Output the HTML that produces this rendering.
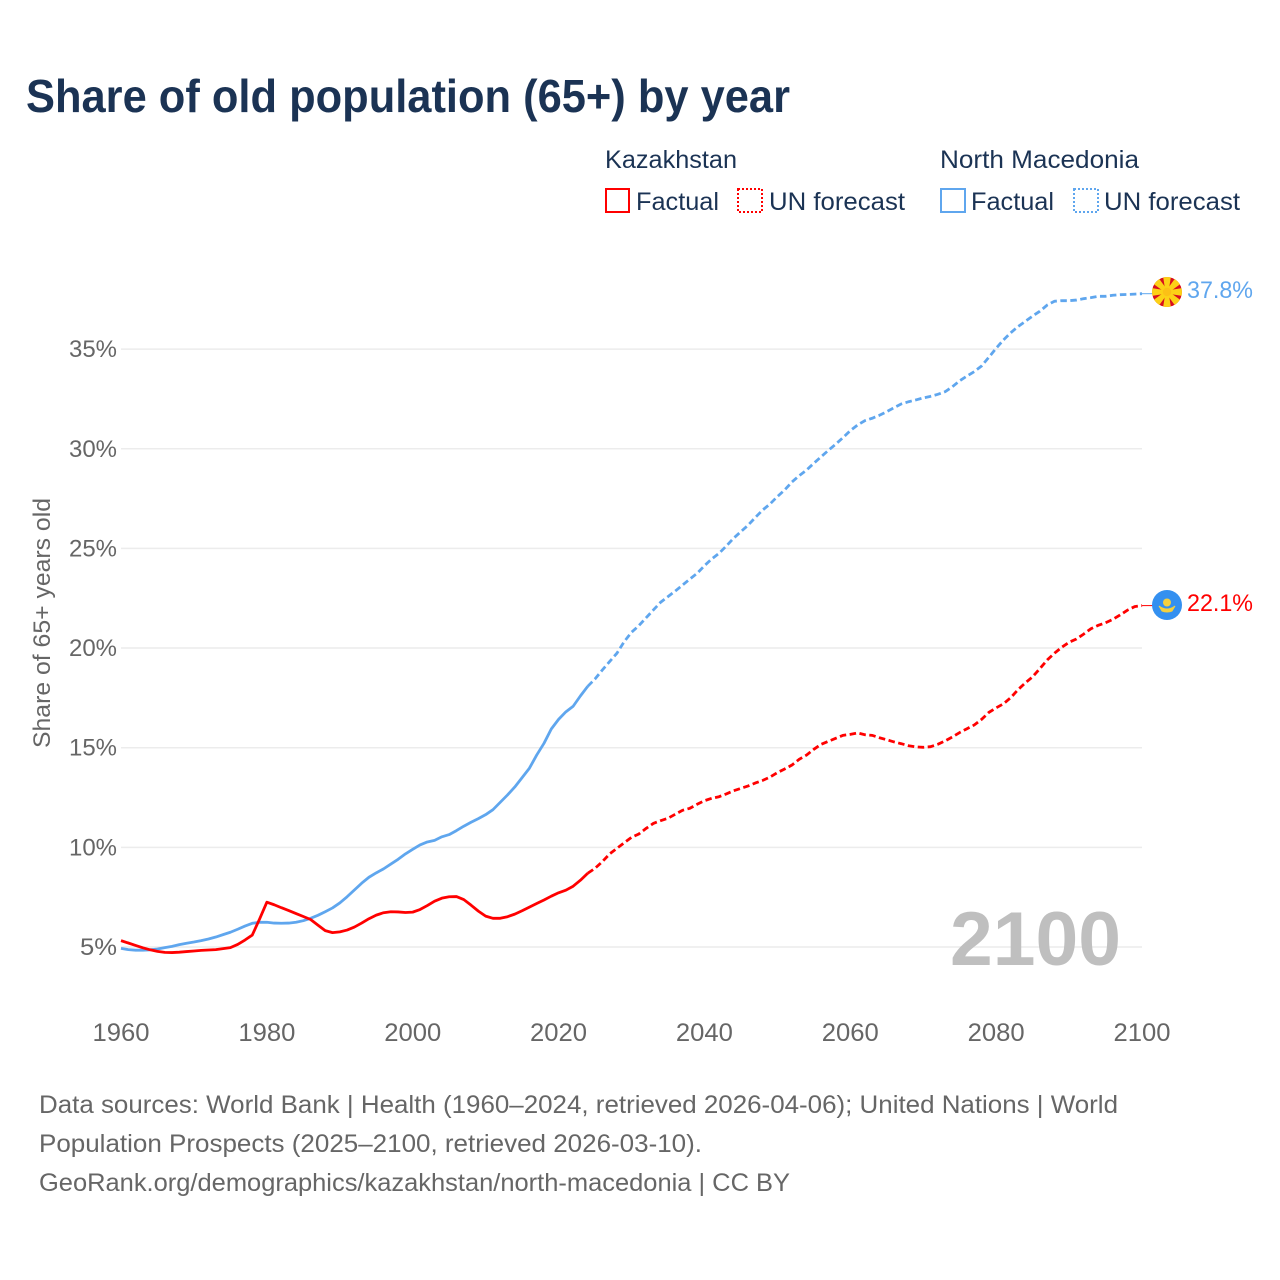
<!DOCTYPE html>
<html lang="en">
<head>
<meta charset="utf-8">
<title>Share of old population (65+) by year</title>
<style>
html,body{margin:0;padding:0;background:#fff;}
svg{display:block;font-family:"Liberation Sans",sans-serif;}
</style>
</head>
<body>
<svg id="chart" xmlns="http://www.w3.org/2000/svg" width="1280" height="1280" viewBox="0 0 1280 1280">
  <rect x="0" y="0" width="1280" height="1280" fill="#ffffff"/>
  <text x="26" y="112" font-size="46" font-weight="700" fill="#1b3354" textLength="764" lengthAdjust="spacingAndGlyphs">Share of old population (65+) by year</text>

  <g fill="#1b3354" font-size="25">
    <text x="605" y="168" textLength="132" lengthAdjust="spacingAndGlyphs">Kazakhstan</text>
    <text x="940" y="168" textLength="199" lengthAdjust="spacingAndGlyphs">North Macedonia</text>
    <rect x="606" y="189" width="23" height="23" fill="none" stroke="#ff0000" stroke-width="2"/>
    <text x="636" y="210" textLength="83" lengthAdjust="spacingAndGlyphs">Factual</text>
    <rect x="738" y="189" width="24" height="23" fill="none" stroke="#ff0000" stroke-width="2" stroke-dasharray="2 2"/>
    <text x="769" y="210" textLength="136" lengthAdjust="spacingAndGlyphs">UN forecast</text>
    <rect x="941" y="189" width="24" height="23" fill="none" stroke="#5fa6ee" stroke-width="2"/>
    <text x="971" y="210" textLength="83" lengthAdjust="spacingAndGlyphs">Factual</text>
    <rect x="1074" y="189" width="24" height="23" fill="none" stroke="#5fa6ee" stroke-width="2" stroke-dasharray="2 2"/>
    <text x="1104" y="210" textLength="136" lengthAdjust="spacingAndGlyphs">UN forecast</text>
  </g>

  <g id="grid"></g>
  <g id="yaxis"></g>
  <g id="xaxis"></g>
  <text transform="translate(50 623) rotate(-90)" text-anchor="middle" font-size="24" fill="#666666" textLength="250" lengthAdjust="spacingAndGlyphs">Share of 65+ years old</text>

  <text x="950" y="965" font-size="76" font-weight="700" fill="#bfbfbf" textLength="171" lengthAdjust="spacingAndGlyphs">2100</text>

  <g id="series"></g>

  <defs>
    <clipPath id="mk-clip"><circle cx="1167" cy="292" r="15"/></clipPath>
  </defs>
  <g clip-path="url(#mk-clip)">
    <circle cx="1167" cy="292" r="15" fill="#d80e1e"/>
    <g fill="#fcd116">
      <polygon points="1165.5,292 1168.5,292 1171,276 1163,276"/>
      <polygon points="1165.5,292 1168.5,292 1171,276 1163,276" transform="rotate(45 1167 292)"/>
      <polygon points="1165.5,292 1168.5,292 1171,276 1163,276" transform="rotate(90 1167 292)"/>
      <polygon points="1165.5,292 1168.5,292 1171,276 1163,276" transform="rotate(135 1167 292)"/>
      <polygon points="1165.5,292 1168.5,292 1171,276 1163,276" transform="rotate(180 1167 292)"/>
      <polygon points="1165.5,292 1168.5,292 1171,276 1163,276" transform="rotate(225 1167 292)"/>
      <polygon points="1165.5,292 1168.5,292 1171,276 1163,276" transform="rotate(270 1167 292)"/>
      <polygon points="1165.5,292 1168.5,292 1171,276 1163,276" transform="rotate(315 1167 292)"/>
    </g>
    <circle cx="1167" cy="292" r="4.2" fill="#fcc016"/>
  </g>
  <g>
    <circle cx="1167" cy="605" r="15" fill="#3490f0"/>
    <circle cx="1167" cy="602.5" r="4" fill="#f4d03f"/>
    <path d="M1159 606 Q1167 612 1175 606 L1172 611 Q1167 613 1162 611 Z" fill="#f4d03f" stroke="#f4d03f" stroke-width="1"/>
  </g>
  <text x="1187" y="298" font-size="24" fill="#5fa6ee" textLength="66" lengthAdjust="spacingAndGlyphs">37.8%</text>
  <text x="1187" y="611" font-size="24" fill="#ff0000" textLength="66" lengthAdjust="spacingAndGlyphs">22.1%</text>

  <g font-size="25" fill="#666666">
    <text x="39" y="1113" textLength="1079" lengthAdjust="spacingAndGlyphs">Data sources: World Bank | Health (1960–2024, retrieved 2026-04-06); United Nations | World</text>
    <text x="39" y="1152" textLength="663" lengthAdjust="spacingAndGlyphs">Population Prospects (2025–2100, retrieved 2026-03-10).</text>
    <text x="39" y="1191" textLength="751" lengthAdjust="spacingAndGlyphs">GeoRank.org/demographics/kazakhstan/north-macedonia | CC BY</text>
  </g>
</svg>
<script>
const years = [
1960,1961,1962,1963,1964,1965,1966,1967,1968,1969,
1970,1971,1972,1973,1974,1975,1976,1977,1978,1979,
1980,1981,1982,1983,1984,1985,1986,1987,1988,1989,
1990,1991,1992,1993,1994,1995,1996,1997,1998,1999,
2000,2001,2002,2003,2004,2005,2006,2007,2008,2009,
2010,2011,2012,2013,2014,2015,2016,2017,2018,2019,
2020,2021,2022,2023,2024,2025,2026,2027,2028,2029,
2030,2031,2032,2033,2034,2035,2036,2037,2038,2039,
2040,2041,2042,2043,2044,2045,2046,2047,2048,2049,
2050,2051,2052,2053,2054,2055,2056,2057,2058,2059,
2060,2061,2062,2063,2064,2065,2066,2067,2068,2069,
2070,2071,2072,2073,2074,2075,2076,2077,2078,2079,
2080,2081,2082,2083,2084,2085,2086,2087,2088,2089,
2090,2091,2092,2093,2094,2095,2096,2097,2098,2099,
2100];
const kazakhstanValues = [
5.32,5.2,5.08,4.96,4.86,4.78,4.73,4.72,4.74,4.77,
4.8,4.83,4.85,4.87,4.92,4.97,5.13,5.35,5.6,6.4,
7.25,7.12,6.97,6.83,6.68,6.53,6.38,6.1,5.82,5.72,
5.76,5.85,6.0,6.2,6.42,6.6,6.72,6.77,6.76,6.73,
6.75,6.88,7.08,7.3,7.45,7.52,7.53,7.38,7.1,6.8,
6.55,6.44,6.44,6.52,6.65,6.82,7.0,7.18,7.36,7.55,
7.72,7.85,8.05,8.35,8.7,8.95,9.28,9.67,9.95,10.23,
10.5,10.67,10.95,11.2,11.34,11.46,11.66,11.86,11.96,12.16,
12.34,12.46,12.54,12.68,12.84,12.96,13.08,13.23,13.36,13.53,
13.75,13.93,14.13,14.42,14.63,14.92,15.17,15.32,15.47,15.62,
15.67,15.74,15.65,15.62,15.5,15.4,15.29,15.2,15.1,15.04,
15.02,15.05,15.17,15.34,15.54,15.76,15.95,16.14,16.42,16.77,
17.0,17.2,17.51,17.91,18.25,18.56,18.97,19.4,19.74,20.04,
20.29,20.45,20.7,20.97,21.14,21.27,21.44,21.66,21.9,22.08,
22.13];
const northMacedoniaValues = [
4.93,4.87,4.84,4.84,4.86,4.9,4.97,5.03,5.12,5.19,
5.25,5.32,5.4,5.5,5.62,5.74,5.89,6.05,6.19,6.24,
6.24,6.2,6.19,6.2,6.24,6.32,6.44,6.59,6.77,6.96,
7.21,7.52,7.86,8.2,8.5,8.72,8.92,9.16,9.4,9.67,
9.9,10.12,10.27,10.35,10.53,10.64,10.84,11.06,11.26,11.44,
11.64,11.89,12.26,12.63,13.03,13.5,13.97,14.63,15.22,15.94,
16.42,16.8,17.08,17.6,18.08,18.45,18.9,19.32,19.74,20.32,
20.79,21.12,21.52,21.91,22.3,22.58,22.86,23.16,23.46,23.75,
24.13,24.47,24.75,25.12,25.51,25.84,26.17,26.56,26.93,27.23,
27.6,27.93,28.33,28.65,28.93,29.27,29.6,29.92,30.23,30.56,
30.91,31.19,31.41,31.53,31.68,31.86,32.06,32.25,32.36,32.45,
32.55,32.63,32.73,32.86,33.11,33.41,33.65,33.87,34.15,34.59,
35.04,35.46,35.82,36.13,36.39,36.66,36.9,37.21,37.4,37.43,
37.43,37.46,37.53,37.58,37.65,37.65,37.7,37.73,37.74,37.76,
37.78];
const yTickValues = [5,10,15,20,25,30,35];
const xTickValues = [1960,1980,2000,2020,2040,2060,2080,2100];
const lastFactualYear = 2024;

const SVG_NS = 'http://www.w3.org/2000/svg';
function xScale(year) { return 121 + (year - 1960) * (1142 - 121) / 140; }
function yScale(value) { return 947 - (value - 5) * 19.93; }

const gridGroup = document.getElementById('grid');
const yAxisGroup = document.getElementById('yaxis');
const xAxisGroup = document.getElementById('xaxis');
const seriesGroup = document.getElementById('series');

yTickValues.forEach(function (tick) {
  const line = document.createElementNS(SVG_NS, 'line');
  
  
  line.setAttribute('x1', xScale(1960));
  line.setAttribute('x2', xScale(2100));
  line.setAttribute('y1', yScale(tick));
  line.setAttribute('y2', yScale(tick));
  line.setAttribute('stroke', '#ececec');
  line.setAttribute('stroke-width', '1.5');
  gridGroup.appendChild(line);

  const label = document.createElementNS(SVG_NS, 'text');
  
  
  label.setAttribute('x', tick < 10 ? 80 : 69);
  label.setAttribute('y', yScale(tick) + 8);
  label.setAttribute('font-size', '24');
  label.setAttribute('fill', '#666666');
  label.setAttribute('textLength', tick < 10 ? '37' : '48');
  label.setAttribute('lengthAdjust', 'spacingAndGlyphs');
  label.textContent = tick + '%';
  yAxisGroup.appendChild(label);
});

xTickValues.forEach(function (tick) {
  const label = document.createElementNS(SVG_NS, 'text');
  
  
  label.setAttribute('x', xScale(tick));
  label.setAttribute('y', 1041);
  label.setAttribute('text-anchor', 'middle');
  label.setAttribute('font-size', '25');
  label.setAttribute('fill', '#666666');
  label.setAttribute('textLength', '57');
  label.setAttribute('lengthAdjust', 'spacingAndGlyphs');
  label.textContent = tick;
  xAxisGroup.appendChild(label);
});

function linePath(values, fromYear, toYear) {
  const parts = [];
  years.forEach(function (year, i) {
    if (year < fromYear || year > toYear) return;
    parts.push((parts.length ? 'L' : 'M') + xScale(year).toFixed(2) + ' ' + yScale(values[i]).toFixed(2));
  });
  return parts.join(' ');
}

function drawSeries(key, values, color) {
  const factual = document.createElementNS(SVG_NS, 'path');
  
  
  factual.setAttribute('d', linePath(values, 1960, lastFactualYear));
  factual.setAttribute('fill', 'none');
  factual.setAttribute('stroke', color);
  factual.setAttribute('stroke-width', '2.8');
  factual.setAttribute('stroke-linejoin', 'round');
  seriesGroup.appendChild(factual);

  const forecast = document.createElementNS(SVG_NS, 'path');
  
  
  forecast.setAttribute('d', linePath(values, lastFactualYear, 2100));
  forecast.setAttribute('fill', 'none');
  forecast.setAttribute('stroke', color);
  forecast.setAttribute('stroke-width', '2.8');
  forecast.setAttribute('stroke-dasharray', '6.5 3.5');
  seriesGroup.appendChild(forecast);

  const lastValue = values[values.length - 1];
  const connector = document.createElementNS(SVG_NS, 'line');
  
  
  connector.setAttribute('x1', xScale(2100));
  connector.setAttribute('y1', yScale(lastValue));
  connector.setAttribute('x2', 1154);
  connector.setAttribute('y2', yScale(lastValue));
  connector.setAttribute('stroke', color);
  connector.setAttribute('stroke-width', '1');
  seriesGroup.appendChild(connector);
}

drawSeries('north-macedonia', northMacedoniaValues, '#5fa6ee');
drawSeries('kazakhstan', kazakhstanValues, '#ff0000');
</script>
</body>
</html>
